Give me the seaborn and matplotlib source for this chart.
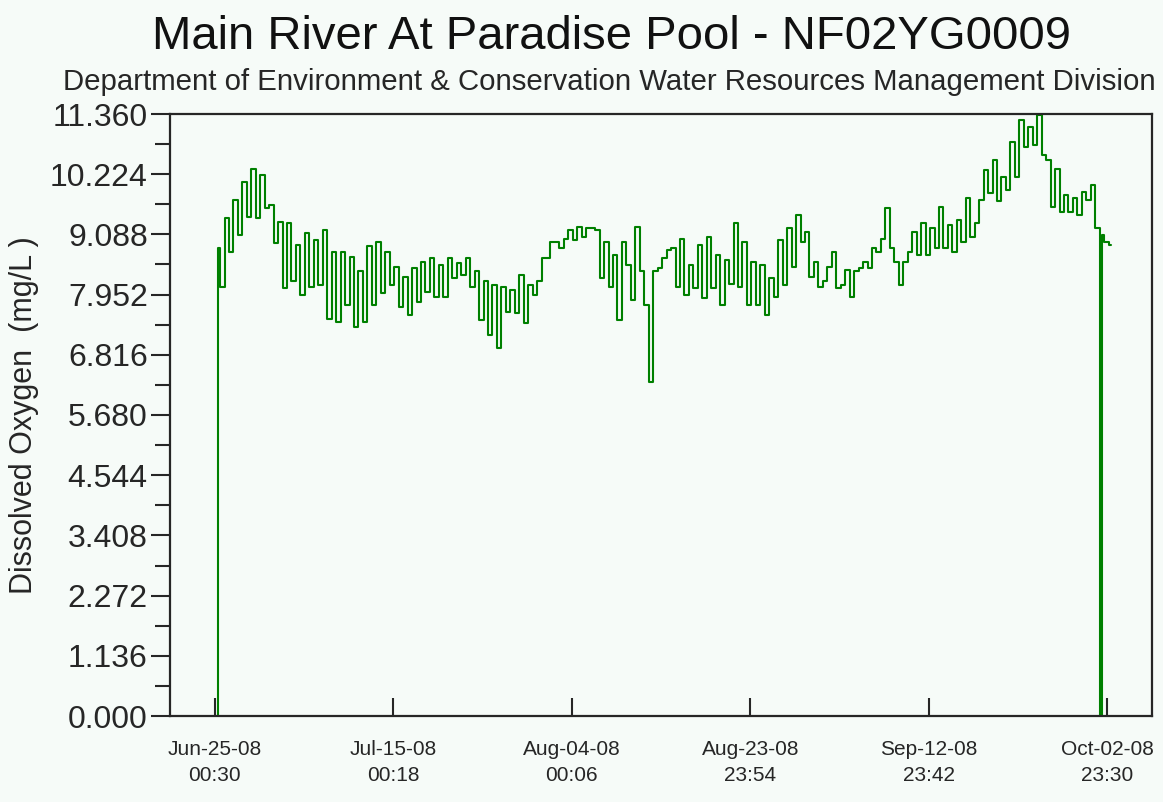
import matplotlib
matplotlib.use("Agg")
import matplotlib.pyplot as plt
from matplotlib.ticker import FixedLocator, FormatStrFormatter
import pandas as pd
import seaborn as sns

# ---- data -------------------------------------------------------------
# 12-hourly dissolved oxygen readings (mg/L), first one at 2008-06-25 09:00
first_reading = "2008-06-25 09:00"
do_mg_l = [
    8.83, 8.10, 9.39, 8.76, 9.74, 9.08, 10.08, 9.42, 10.33, 9.39,
    10.20, 9.58, 9.64, 8.92, 9.33, 8.07, 9.30, 8.20, 8.89, 7.94,
    9.11, 8.10, 8.98, 8.13, 9.17, 7.50, 8.76, 7.44, 8.76, 7.76,
    8.67, 7.35, 8.39, 7.44, 8.86, 7.76, 8.95, 7.99, 8.76, 8.13,
    8.48, 7.72, 8.29, 7.57, 8.45, 7.82, 8.57, 8.01, 8.64, 7.91,
    8.51, 7.91, 8.64, 8.26, 8.54, 8.32, 8.64, 8.10, 8.39, 7.47,
    8.20, 7.19, 8.13, 6.94, 8.10, 7.63, 8.04, 7.60, 8.32, 7.41,
    8.13, 7.94, 8.20, 8.64, 8.64, 8.95, 8.95, 8.83, 9.01, 9.17,
    8.98, 9.23, 9.04, 9.20, 9.20, 9.17, 8.26, 8.95, 8.10, 8.70,
    7.47, 8.95, 8.51, 7.85, 9.23, 8.39, 7.76, 6.31, 8.39, 8.45,
    8.64, 8.79, 8.83, 8.10, 9.01, 7.94, 8.51, 8.07, 8.89, 7.88,
    9.04, 8.07, 8.70, 7.76, 8.60, 8.16, 9.30, 8.10, 8.95, 7.76,
    8.57, 7.76, 8.51, 7.57, 8.26, 7.91, 8.98, 8.13, 9.20, 8.48,
    9.45, 8.95, 9.14, 8.29, 8.57, 8.10, 8.20, 8.48, 8.76, 8.07,
    8.13, 8.42, 7.91, 8.39, 8.45, 8.57, 8.45, 8.83, 8.76, 9.01,
    9.58, 8.83, 8.57, 8.13, 8.57, 8.76, 9.14, 8.70, 9.30, 8.70,
    9.20, 8.83, 9.61, 8.83, 9.27, 8.76, 9.36, 8.95, 9.77, 9.04,
    9.30, 9.74, 10.30, 9.86, 10.49, 9.71, 10.18, 9.93, 10.84, 10.18,
    11.25, 10.74, 11.12, 10.77, 11.34, 10.59, 10.49, 9.61, 10.33, 9.52,
    9.83, 9.52, 9.77, 9.45, 9.89, 9.74, 10.02, 9.20, 9.08, 8.95,
    8.88,
]
# sensor outages, logged as 0 mg/L
outage_times = ["2008-06-25 09:00", "2008-10-02 09:00"]
outage_values = [0.0, 0.0]

tick_times = ["2008-06-25 00:30", "2008-07-15 00:18", "2008-08-04 00:06",
              "2008-08-23 23:54", "2008-09-12 23:42", "2008-10-02 23:30"]
tick_labels = ["Jun-25-08\n00:30", "Jul-15-08\n00:18", "Aug-04-08\n00:06",
               "Aug-23-08\n23:54", "Sep-12-08\n23:42", "Oct-02-08\n23:30"]
y_ticks = [0.000, 1.136, 2.272, 3.408, 4.544, 5.680,
           6.816, 7.952, 9.088, 10.224, 11.360]

title = "Main River At Paradise Pool - NF02YG0009"
subtitle = "Department of Environment & Conservation Water Resources Management Division"
y_label = "Dissolved Oxygen  (mg/L )"

# ---- frame ------------------------------------------------------------
readings = pd.DataFrame({
    "time": pd.date_range(first_reading, periods=len(do_mg_l), freq="12h"),
    "do": do_mg_l,
})
outages = pd.DataFrame({"time": pd.to_datetime(outage_times), "do": outage_values})
df = pd.concat([outages, readings], ignore_index=True)
df = df.sort_values("time", kind="mergesort").reset_index(drop=True)

# ---- style ------------------------------------------------------------
bg = "#f6fbf8"
ink = "#262626"
sns.set_theme(style="white")
plt.rcParams["font.family"] = ["Liberation Sans", "DejaVu Sans"]

fig = plt.figure(figsize=(11.63, 8.02), dpi=100, facecolor=bg)
ax = fig.add_axes([170 / 1163, 1 - 716 / 802, (1152 - 170) / 1163, (716 - 114) / 802])
ax.set_facecolor(bg)

sns.lineplot(data=df, x="time", y="do", estimator=None, sort=False,
             color="#008000", linewidth=1.5, drawstyle="steps-mid", ax=ax)

# axes ranges
ticks_dt = pd.to_datetime(tick_times)
pad = pd.Timedelta(days=5)
ax.set_xlim(ticks_dt[0] - pad, ticks_dt[-1] + pad)
ax.set_ylim(y_ticks[0], y_ticks[-1])

# y axis
ax.yaxis.set_major_locator(FixedLocator(y_ticks))
ax.yaxis.set_major_formatter(FormatStrFormatter("%.3f"))
minor = [(a + b) / 2 for a, b in zip(y_ticks[:-1], y_ticks[1:])]
ax.yaxis.set_minor_locator(FixedLocator(minor))
ax.tick_params(axis="y", which="major", direction="out", length=14, width=1.5,
               color=ink, labelsize=23, labelcolor=ink, pad=2, left=True)
ax.tick_params(axis="y", which="minor", direction="out", length=11, width=1.5,
               color=ink, left=True)

# x axis
ax.set_xticks(ticks_dt)
ax.set_xticklabels(tick_labels, linespacing=1.5)
ax.tick_params(axis="x", which="major", direction="in", length=13, width=1.5,
               color=ink, labelsize=15, labelcolor=ink, pad=17, bottom=True)

for s in ax.spines.values():
    s.set_visible(True)
    s.set_color(ink)
    s.set_linewidth(1.6)

ax.set_xlabel("")
ax.set_ylabel(y_label, fontsize=22, color=ink, labelpad=8)

fig.text(612 / 1163, 1 - 37 / 802, title, ha="center", va="center",
         fontsize=34, color="#111111")
fig.text(609 / 1163, 1 - 82 / 802, subtitle, ha="center", va="center",
         fontsize=21.2, color=ink)

fig.savefig("out.png", dpi=100, facecolor=bg)
